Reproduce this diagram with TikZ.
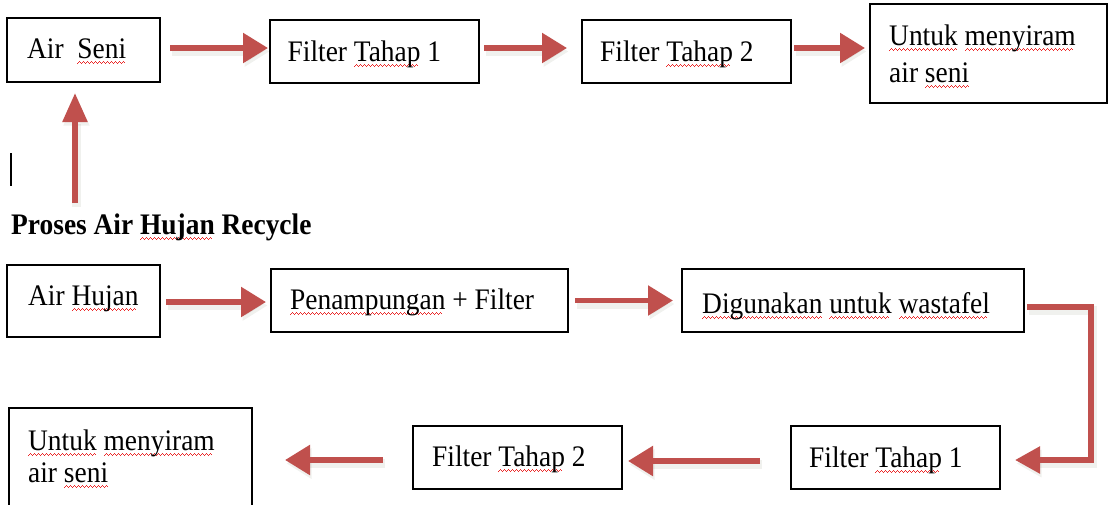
\documentclass[tikz,border=0pt]{standalone}
\usepackage{fontspec}
\setmainfont[FakeStretch=0.92]{Liberation Serif}
\usetikzlibrary{arrows.meta,calc}
\definecolor{arrred}{RGB}{192,80,77}
\definecolor{shadowc}{RGB}{85,95,70}
\definecolor{sqred}{RGB}{235,40,40}
\newsavebox\sqbox
\newcommand\wavepiece{\hbox{\rule[0pt]{1pt}{1.1pt}\rule[0.8pt]{1pt}{1.1pt}\rule[1.6pt]{1pt}{1.1pt}\rule[0.8pt]{1pt}{1.1pt}}}
\newcommand\sq[1]{\sbox\sqbox{#1}\rlap{\color{sqred}\leaders\hbox{\lower6pt\wavepiece}\hskip\wd\sqbox}\usebox\sqbox}
\begin{document}
\begin{tikzpicture}[x=1pt,y=-1pt,
  box/.style={draw, line width=1.6pt, rectangle, anchor=north west, inner sep=0pt, outer sep=0pt},
  txt/.style={anchor=base west, inner sep=0pt, font=\fontsize{29.8}{35}\selectfont},
  arr/.style={draw=arrred, line width=5.5pt, line join=miter,
    -{Triangle[length=25pt,width=29pt]},
    preaction={draw=shadowc, opacity=0.09, line width=9pt,
      transform canvas={shift={(1.5pt,-3.5pt)}}}}]
\clip (0,0) rectangle (1109,504);
% top row boxes
\node[box, minimum width=153pt, minimum height=64pt] (a1) at (7,18) {};
\node[box, minimum width=209pt, minimum height=63pt] (a2) at (270,20) {};
\node[box, minimum width=209pt, minimum height=63pt] (a3) at (582,20) {};
\node[box, minimum width=237pt, minimum height=99pt] (a4) at (870,4) {};
% bottom boxes
\node[box, minimum width=153pt, minimum height=72pt] (b1) at (7,265) {};
\node[box, minimum width=297pt, minimum height=63pt] (b2) at (271,269) {};
\node[box, minimum width=342pt, minimum height=63pt] (b3) at (682,269) {};
\node[box, minimum width=209pt, minimum height=63pt] (b4) at (791,426) {};
\node[box, minimum width=209pt, minimum height=63pt] (b5) at (413,426) {};
\node[box, minimum width=243pt, minimum height=110pt] (b6) at (9,408) {};
% texts
\node[txt] (t1) at (27,58) {Air~ \sq{Seni}};
\node[txt] (t2) at (287.5,61) {Filter \sq{Tahap} 1};
\node[txt] (t3) at (600,61) {Filter \sq{Tahap} 2};
\node[txt] (t4a) at (889,45) {\sq{Untuk} \sq{menyiram}};
\node[txt] (t4b) at (889,82) {air \sq{seni}};
\node[txt, font=\fontsize{29.8}{35}\selectfont\bfseries] (head) at (11,234) {Proses Air \sq{Hujan} Recycle};
\node[txt] (t5) at (28,305) {Air \sq{Hujan}};
\node[txt] (t6) at (290,309) {\sq{Penampungan} + Filter};
\node[txt] (t7) at (702,313) {\sq{Digunakan} \sq{untuk} \sq{wastafel}};
\node[txt] (t8) at (809,467) {Filter \sq{Tahap} 1};
\node[txt] (t9) at (432,466) {Filter \sq{Tahap} 2};
\node[txt] (t10a) at (28,450) {\sq{Untuk} \sq{menyiram}};
\node[txt] (t10b) at (28,482) {air \sq{seni}};
% text cursor
\draw[line width=1.3pt] (11,153) -- (11,186);
% top arrows
\draw[arr, shorten <=10pt, shorten >=2pt] ([yshift=2pt]a1.east) -- ([yshift=2pt]a1.east -| a2.west);
\draw[arr, shorten <=5pt, shorten >=15pt] ([yshift=3.5pt]a2.east) -- ([yshift=3.5pt]a2.east -| a3.west);
\draw[arr, shorten <=3pt, shorten >=5pt] ([yshift=3.5pt]a3.east) -- ([yshift=3.5pt]a3.east -| a4.west);
% vertical arrow
\coordinate (vt) at (75,203);
\draw[arr, -{Triangle[length=29pt,width=24pt]}, shorten >=11pt] (vt) -- (vt |- a1.south);
% bottom arrows
\draw[arr, shorten <=6pt, shorten >=5pt] ([yshift=-1pt]b1.east) -- ([yshift=-1pt]b1.east -| b2.west);
\draw[arr, shorten <=7pt, shorten >=9pt] (b2.east) -- (b2.east -| b3.west);
\coordinate (elb) at (1091,460);
\draw[arr, -{Triangle[length=25pt,width=26pt]}, shorten <=3pt, shorten >=15pt] ([yshift=-6.5pt]b3.east) -| (elb) -- (elb -| b4.east);
\draw[arr, shorten <=31pt, shorten >=6pt] ([yshift=-3.5pt]b4.west) -- ([yshift=-3.5pt]b4.west -| b5.east);
\draw[arr, shorten <=30pt, shorten >=33pt] ([yshift=-2.5pt]b5.west) -- ([yshift=-2.5pt]b5.west -| b6.east);
\end{tikzpicture}
\end{document}
